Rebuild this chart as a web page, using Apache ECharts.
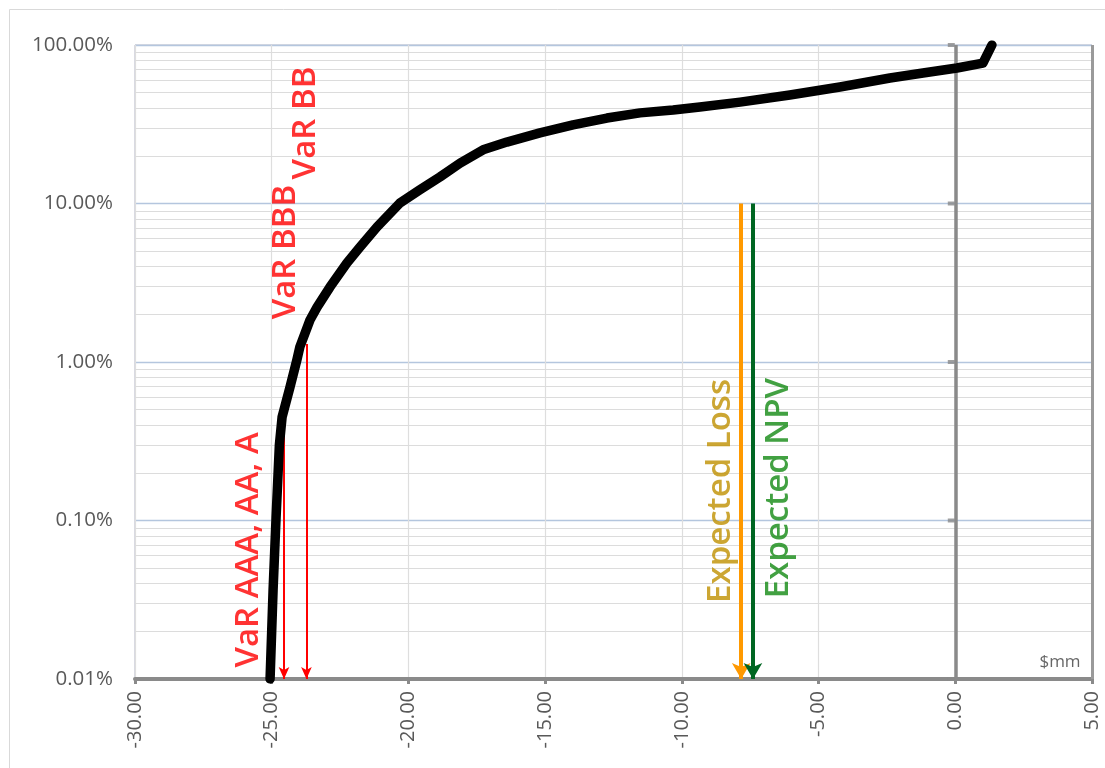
<!DOCTYPE html>
<html><head><meta charset="utf-8">
<script src="https://cdn.jsdelivr.net/npm/echarts@6/dist/echarts.min.js"></script>
<style>html,body{margin:0;padding:0;background:#fff}#c{width:1105px;height:768px}</style>
</head><body><div id="c"></div>
<script>
// ---- data ----
const curveX = [-25.06, -24.95, -24.84, -24.72, -24.62, -24.33, -24.08, -23.97, -23.60, -23.34, -22.87, -22.25, -21.77, -21.15, -20.31, -19.58, -18.85, -18.11, -17.27, -16.40, -15.19, -13.98, -12.74, -11.53, -10.32, -9.34, -7.87, -6.05, -4.22, -2.39, -1.18, 0.06, 1.01, 1.34];
const curveY = [0.01, 0.0364, 0.105, 0.30, 0.45, 0.695, 1.03, 1.245, 1.84, 2.22, 2.97, 4.21, 5.32, 7.11, 10.07, 12.2, 14.7, 18.0, 21.8, 24.4, 27.9, 31.3, 34.6, 37.3, 38.9, 40.6, 43.6, 48.4, 54.3, 61.9, 66.6, 71.6, 76.9, 100];
const arrowNames = ['VaR AAA, AA, A', 'VaR BBB', 'Expected Loss', 'Expected NPV'];
const arrowX = [-24.55, -23.73, -7.83, -7.40];
const arrowTop = [0.35, 1.3, 10, 10];
const arrowBottom = [0.01, 0.01, 0.01, 0.01];
const labelNames = ['VaR AAA, AA, A', 'VaR BBB', 'VaR BB', 'Expected Loss', 'Expected NPV'];
const labelX = [-25.83, -24.48, -23.76, -8.60, -6.48];
const labelY = [0.0652, 4.94, 32.2, 0.1535, 0.160];
const yTicks = [0.01, 0.1, 1, 10, 100];
const unitLabel = '$mm';
const unitX = 3.83, unitY = 0.0128;

// ---- styles ----
const arrowColors = ['#ff0000', '#ff0000', '#ff9900', '#006622'];
const arrowWidths = [2, 2, 4, 4];
const arrowHead = [[8, 12], [8, 12], [14, 16], [14, 16]];
const labelColors = ['#ff0000', '#ff0000', '#ff0000', '#bf9000', '#138a13'];
const FONT = '"Open Sans", "Noto Sans", sans-serif';

const minorVals = [];
for (let i = 0; i < yTicks.length - 1; i++) {
  for (let k = 2; k <= 9; k++) minorVals.push(+(yTicks[i] * k).toPrecision(6));
}

const chart = echarts.init(document.getElementById('c'));

const series = [];
series.push({
  type: 'line', data: [], silent: true, z: 1,
  markLine: {
    silent: true, symbol: 'none', animation: false,
    label: {show: false},
    data: [
      ...minorVals.map(v => ({yAxis: v, lineStyle: {color: '#dcdcdc', width: 1.2, type: 'solid'}})),
      {xAxis: 0, lineStyle: {color: '#8a8a8a', width: 3.5, type: 'solid'}},
      {xAxis: 5, lineStyle: {color: '#9a9a9a', width: 3, type: 'solid'}}
    ]
  }
});
series.push({
  type: 'scatter', silent: true, z: 3,
  data: yTicks.map(v => [0, v]),
  symbol: 'rect', symbolSize: [7, 4], symbolOffset: [-4, 0],
  itemStyle: {color: '#8a8a8a'}
});
arrowNames.forEach((n, i) => {
  series.push({
    type: 'line', data: [], silent: true, z: 4,
    markLine: {
      silent: true, animation: false,
      symbol: ['none', 'arrow'], symbolSize: arrowHead[i],
      label: {show: false},
      lineStyle: {color: arrowColors[i], width: arrowWidths[i], type: 'solid'},
      data: [[{coord: [arrowX[i], arrowTop[i]]}, {coord: [arrowX[i], arrowBottom[i]]}]]
    }
  });
});
series.push({
  type: 'line', z: 5, silent: true,
  data: curveX.map((x, i) => [x, curveY[i]]),
  symbol: 'none', smooth: false,
  lineStyle: {color: '#000', width: 9.5, cap: 'round', join: 'round'}
});
series.push({
  type: 'scatter', z: 6, silent: true, symbolSize: 0,
  data: labelNames.map((n, i) => ({
    value: [labelX[i], labelY[i]], name: n,
    label: {color: labelColors[i]}
  })),
  label: {
    show: true, position: 'inside', rotate: 90,
    formatter: p => p.name,
    fontFamily: FONT, fontSize: 33, fontWeight: 600
  }
});
series.push({
  type: 'scatter', z: 6, silent: true, symbolSize: 0,
  data: [{value: [unitX, unitY], name: unitLabel}],
  label: {show: true, position: 'inside', formatter: p => p.name, color: '#404040', fontFamily: FONT, fontSize: 17}
});

chart.setOption({
  animation: false,
  backgroundColor: '#fff',
  graphic: [{
    type: 'rect', shape: {x: 9.5, y: 9.5, width: 1120, height: 800},
    style: {fill: 'none', stroke: '#d9d9d9', lineWidth: 1}, silent: true, z: -1
  }],
  grid: {left: 135, right: 13, top: 45, bottom: 89, show: true, borderColor: '#b0b4c4', borderWidth: 1, backgroundColor: 'transparent'},
  xAxis: {
    type: 'value', min: -30, max: 5, interval: 5,
    axisLine: {onZero: false, lineStyle: {color: '#8a8a8a', width: 4}},
    axisTick: {show: true, length: 5, lineStyle: {color: '#8a8a8a', width: 3}},
    splitLine: {show: true, lineStyle: {color: '#dedede', width: 1.2}},
    axisLabel: {
      rotate: 90, margin: 12, color: '#595959', fontFamily: FONT, fontSize: 20,
      formatter: v => v.toFixed(2)
    }
  },
  yAxis: {
    type: 'log', logBase: 10, min: 0.01, max: 100,
    axisLine: {show: false},
    axisTick: {show: false},
    splitLine: {show: true, lineStyle: {color: '#b4c6de', width: 1.3}},
    axisLabel: {
      margin: 22, color: '#595959', fontFamily: FONT, fontSize: 20.5,
      formatter: v => (+v).toFixed(2) + '%'
    }
  },
  series: series
});
</script>
</body></html>
